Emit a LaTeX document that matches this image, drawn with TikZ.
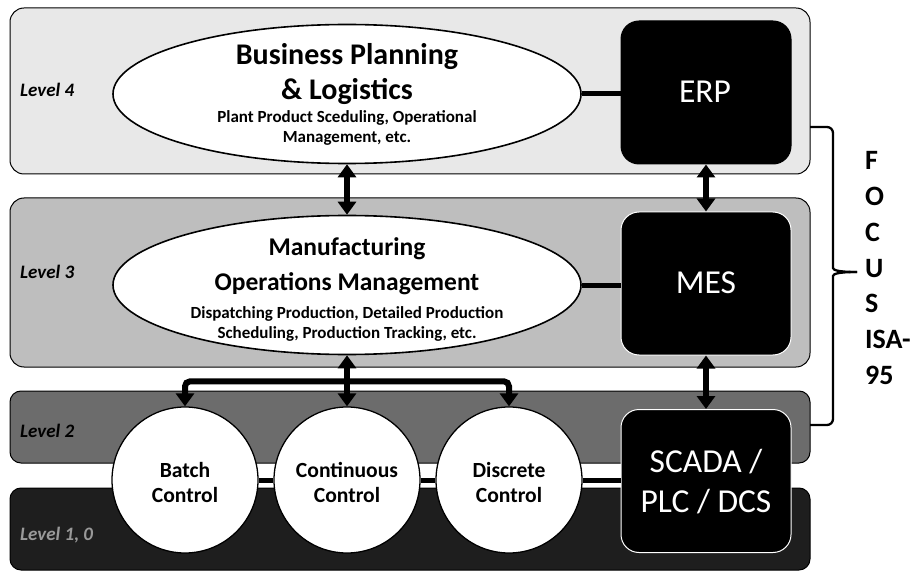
\documentclass[tikz,border=0pt]{standalone}
\usepackage{fontspec}
\setmainfont{Carlito}
\usetikzlibrary{shapes.geometric,arrows.meta}
\definecolor{bandA}{HTML}{E8E8E8}
\definecolor{bandB}{HTML}{BEBEBE}
\definecolor{bandC}{HTML}{6C6C6C}
\definecolor{bandD}{HTML}{1E1E1E}
\begin{document}
\begin{tikzpicture}[x=1pt,y=-1pt,
  band/.style={rectangle, draw=black, line width=1pt, rounded corners=14pt, minimum width=800pt, inner sep=0pt},
  ell/.style={ellipse, draw=black, line width=1.6pt, fill=white, minimum width=468pt, minimum height=139pt, inner sep=0pt},
  sysbox/.style={rectangle, rounded corners=18pt, fill=black, draw=white, line width=1pt, minimum width=170pt, minimum height=143pt, inner sep=0pt},
  ctl/.style={circle, draw=black, fill=white, line width=1.3pt, minimum size=146pt, inner sep=0pt},
  link/.style={line width=5pt},
  dbl/.style={line width=6pt, {Triangle[width=18pt,length=13pt]}-{Triangle[width=18pt,length=13pt]}},
  lvl/.style={font=\fontsize{19}{22}\selectfont\bfseries\itshape, anchor=base west, inner sep=0pt},
  bigT/.style={font=\fontsize{30}{36}\selectfont\bfseries, anchor=base, inner sep=0pt},
  midT/.style={font=\fontsize{25.5}{32}\selectfont\bfseries, anchor=base, inner sep=0pt},
  subT/.style={font=\fontsize{17}{20}\selectfont\bfseries, anchor=base, inner sep=0pt},
  ctlT/.style={font=\fontsize{21.6}{25}\selectfont\bfseries, anchor=base, inner sep=0pt},
  sysT/.style={font=\fontsize{33.5}{38}\selectfont, text=white, anchor=base, inner sep=0pt},
  focT/.style={font=\fontsize{28}{32}\selectfont\bfseries, anchor=base west, inner sep=0pt}
]
\useasboundingbox (0,0) rectangle (913,572);

% bands
\node[band, fill=bandA, minimum height=166pt] (L4) at (410,91) {};
\node[band, fill=bandB, minimum height=169pt] (L3) at (410,282.5) {};
\node[band, fill=bandC, minimum height=72pt, rounded corners=11pt] (L2) at (410,427) {};
\node[band, fill=bandD, minimum height=82pt, rounded corners=11pt] (L1) at (410,529) {};

% level labels
\node[lvl] (lv4) at (20,96.5) {Level 4};
\node[lvl] (lv3) at (20,278) {Level 3};
\node[lvl] (lv2) at (20,437) {Level 2};
\node[lvl, text=black!40] (lv1) at (20,540) {Level 1, 0};

% main nodes
\node[ell] (bpl) at (347,94) {};
\node[ell] (mom) at (347,285) {};
\node[sysbox, draw=black] (erp) at (706,92.5) {};
\node[sysbox] (mes) at (706,283.5) {};
\node[ctl] (batch) at (185,480) {};
\node[ctl] (cont) at (347,480) {};
\node[ctl] (disc) at (509,480) {};
\node[sysbox] (scada) at (706,481) {};

% horizontal links
\draw[link] (bpl.east) -- (erp.west |- bpl.east);
\draw[link] (mom.east) -- (mes.west |- mom.east);
\draw[link] (batch.east) -- (cont.west);
\draw[link] (cont.east) -- (disc.west);
\draw[link] (disc.east) -- (scada.west |- disc.east);

% vertical arrows
\draw[dbl] (bpl.south) -- (mom.north);
\draw[dbl] (erp.south) -- (mes.north);
\draw[dbl] (mes.south) -- (scada.north);
\draw[dbl] (mom.south) -- (cont.north);
\draw[line width=6pt, rounded corners=5pt, {Triangle[width=18pt,length=13pt]}-{Triangle[width=18pt,length=13pt]}]
  (batch.north) -- ++(0,-25) -| (disc.north);

% texts
\node[bigT] (t4a) at (347,65) {Business Planning};
\node[bigT] (t4b) at (347,100) {\& Logistics};
\node[subT] (t4c) at (347,123) {Plant Product Sceduling, Operational};
\node[subT] (t4d) at (347,142.5) {Management, etc.};

\node[midT] (t3a) at (347,255) {Manufacturing};
\node[midT] (t3b) at (347,290.5) {Operations Management};
\node[subT] (t3c) at (347,318) {Dispatching Production, Detailed Production};
\node[subT] (t3d) at (347,338) {Scheduling, Production Tracking, etc.};

\node[ctlT] (cbA) at (185,477) {Batch};
\node[ctlT] (cbB) at (185,502) {Control};
\node[ctlT] (ccA) at (347,477) {Continuous};
\node[ctlT] (ccB) at (347,502) {Control};
\node[ctlT] (cdA) at (509,477) {Discrete};
\node[ctlT] (cdB) at (509,502) {Control};

\node[sysT] (terp) at (705,103) {ERP};
\node[sysT] (tmes) at (706,293) {MES};
\node[sysT] (tsc1) at (706,472) {SCADA /};
\node[sysT] (tsc2) at (706,512) {PLC / DCS};

% brace
\draw[line width=2.3pt, rounded corners=6pt]
  (810,127) -- (833,127) -- (833,262)
  .. controls (833,270) and (838,272) .. (857,272);
\draw[line width=2.3pt, rounded corners=6pt]
  (857,272) .. controls (838,272) and (833,274) .. (833,282)
  -- (833,425) -- (810,425);

\node[focT] (f1) at (865,170) {F};
\node[focT] (f2) at (865,205.7) {O};
\node[focT] (f3) at (865,241.4) {C};
\node[focT] (f4) at (865,277) {U};
\node[focT] (f5) at (865,312.8) {S};
\node[focT] (f6) at (865,348.5) {ISA-};
\node[focT] (f7) at (865,384) {95};
\end{tikzpicture}
\end{document}
